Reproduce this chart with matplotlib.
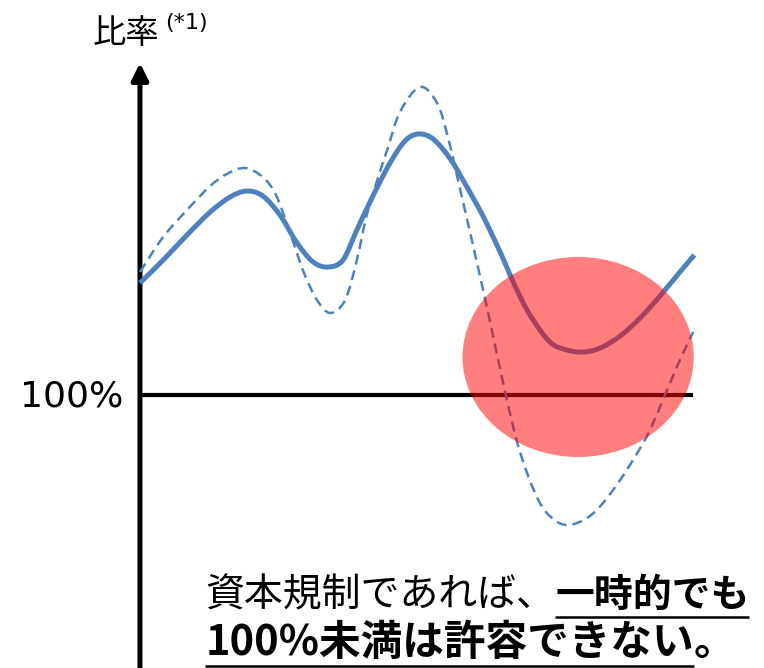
import matplotlib
matplotlib.use("Agg")
import matplotlib.pyplot as plt
import numpy as np
from matplotlib.patches import Ellipse, PathPatch
from matplotlib.path import Path

# 時間軸 (任意単位) と比率 (%)
t_actual = [0.00, 0.42, 0.85, 1.27, 1.63, 1.93, 2.22, 2.53, 2.84, 3.13, 3.40, 3.67,
            3.92, 4.21, 4.52, 4.79, 5.03, 5.30, 5.61, 5.91, 6.20, 6.51, 6.78, 7.05,
            7.41, 7.72, 8.01, 8.32, 8.68, 9.04, 9.40, 9.76, 10.02]
ratio_actual = [128.0, 133.75, 140.0, 145.75, 149.5, 151.0, 149.75, 145.0, 138.0, 133.25, 132.0, 133.75,
                141.25, 149.75, 158.0, 163.5, 165.25, 164.0, 159.0, 152.0, 144.75, 135.75, 127.25, 120.0,
                113.25, 111.25, 110.75, 111.75, 114.75, 119.25, 124.75, 130.75, 135.0]

t_spot = [0.00, 0.42, 0.85, 1.27, 1.57, 1.90, 2.22, 2.44, 2.62, 2.80, 2.98, 3.20, 3.44,
          3.71, 3.92, 4.10, 4.29, 4.48, 4.70, 5.06, 5.37, 5.57, 5.79, 6.06, 6.33, 6.60,
          6.87, 7.20, 7.47, 7.74, 8.08, 8.37, 8.68, 8.99, 9.22, 9.49, 9.76, 10.00]
ratio_spot = [130.75, 139.5, 146.25, 152.25, 155.25, 156.75, 154.5, 150.5, 144.25, 137.0, 130.0, 123.75, 120.5,
              123.75, 133.75, 145.0, 153.75, 161.75, 170.75, 177.0, 173.0, 164.25, 151.25, 135.0, 118.25, 100.75,
              85.75, 73.75, 69.0, 67.5, 69.25, 73.0, 78.75, 85.5, 91.25, 100.0, 108.75, 115.75]

threshold = 100
t_end = 10.0

blue = "#4F81BD"
cjk = ["Noto Sans CJK JP", "DejaVu Sans"]


def smooth_path(x, y):
    # 点列を通るなめらかな曲線 (Catmull-Rom をベジェに変換)
    p = np.column_stack([x, y])
    n = len(p)
    verts = [p[0]]
    codes = [Path.MOVETO]
    for i in range(n - 1):
        p0 = p[max(i - 1, 0)]
        p1 = p[i]
        p2 = p[i + 1]
        p3 = p[min(i + 2, n - 1)]
        verts += [p1 + (p2 - p0) / 6, p2 - (p3 - p1) / 6, p2]
        codes += [Path.CURVE4] * 3
    return Path(verts, codes)


fig = plt.figure(figsize=(7.64, 6.68), dpi=100)
ax = fig.add_axes([0, 0, 1, 1])
ax.set_xlim(-2.53, 11.28)
ax.set_ylim(31.75, 198.75)
ax.axis("off")

# 縦軸 (矢印)
ax.annotate("", xy=(0, 183), xytext=(0, 31.75),
            arrowprops=dict(arrowstyle="-|>,head_length=10,head_width=5",
                            mutation_scale=1, lw=3.6, color="black",
                            shrinkA=0, shrinkB=0))
# 100% ライン
ax.plot([0, t_end], [threshold, threshold], color="black", lw=3, solid_capstyle="butt", zorder=2)

ax.add_patch(PathPatch(smooth_path(t_spot, ratio_spot), fill=False, edgecolor=blue,
                       lw=1.8, ls=(0, (4, 2.4)), zorder=3))
ax.add_patch(PathPatch(smooth_path(t_actual, ratio_actual), fill=False, edgecolor=blue,
                       lw=3.6, capstyle="butt", joinstyle="round", zorder=3))

# 100%を下回る区間の強調
ax.add_patch(Ellipse((7.92, 109.5), 4.18, 50, facecolor="red", alpha=0.5,
                     edgecolor="none", zorder=5))

ax.text(-0.3, 99.6, "100%", fontsize=26, family="DejaVu Sans", ha="right", va="center")
ax.text(-0.86, 190.5, "比率", fontsize=24, family=cjk, ha="left", va="center")
ax.text(0.45, 195.6, "(*1)", fontsize=16, family="DejaVu Sans", ha="left", va="top")

# 下部メッセージ
x0 = 1.18
t1 = ax.text(x0, 50, "資本規制であれば、", fontsize=28, family=cjk, ha="left", va="center")
fig.canvas.draw()
r = fig.canvas.get_renderer()
inv = ax.transData.inverted()
bb = t1.get_window_extent(r)
x1 = inv.transform((bb.x1, bb.y0))[0]
t2 = ax.text(x1, 50, "一時的でも", fontsize=28, family=cjk, weight="bold", ha="left", va="center")
t3 = ax.text(x0, 38, "100%未満は許容できない", fontsize=30, family=cjk, weight="bold",
             ha="left", va="center")
fig.canvas.draw()
bb3 = t3.get_window_extent(r)
x3 = inv.transform((bb3.x1, bb3.y0))[0]
ax.text(x3, 38, "。", fontsize=30, family=cjk, weight="bold", ha="left", va="center")

# 下線
for t, y in ((t2, 44.5), (t3, 32.3)):
    b = t.get_window_extent(r)
    xa = inv.transform((b.x0, b.y0))[0]
    xb = inv.transform((b.x1, b.y0))[0]
    ax.plot([xa, xb], [y, y], color="black", lw=1.8, solid_capstyle="butt")

fig.savefig("out.png", dpi=100)
